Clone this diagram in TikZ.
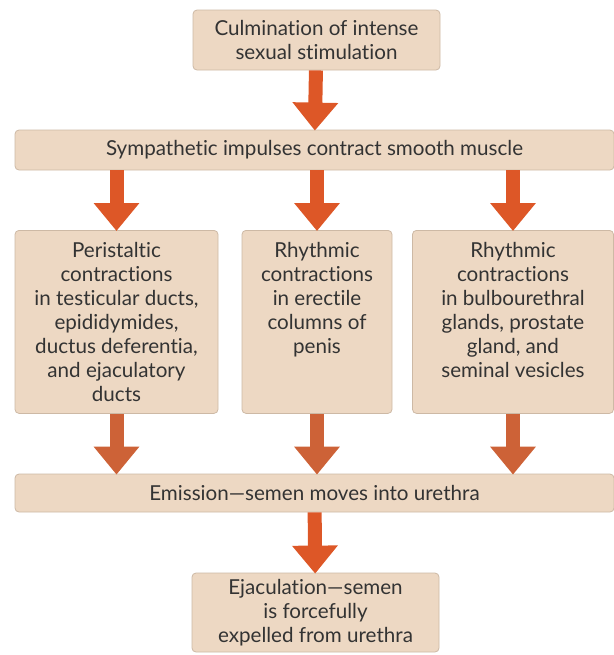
\documentclass[tikz,border=0pt]{standalone}
\usepackage{fontspec}
\setmainfont{Lato}[Ligatures={NoCommon,NoRare,NoContextual}]
\usetikzlibrary{arrows.meta}
\definecolor{boxfill}{HTML}{EDD8C3}
\definecolor{boxline}{HTML}{CDB9A5}
\definecolor{arrowred}{HTML}{DD5727}
\definecolor{arrowbrown}{HTML}{CD6237}
\tikzset{
  stepbox/.style={draw=boxline, fill=boxfill, rounded corners=2pt, align=center, inner sep=0pt, font=\fontsize{10.3}{12}\selectfont, text=black!80},
  barbox/.style={stepbox, minimum width=299.5pt, minimum height=20pt},
  endbox/.style={stepbox, minimum width=123.5pt},
  colbox/.style={stepbox, anchor=north},
  flowarrow/.style={-{Triangle[width=22pt,length=14pt]}, line width=7pt, draw=arrowred, shorten >=-0.5pt},
  lowarrow/.style={flowarrow, draw=arrowbrown}
}
% top aligned text of a column box
\newcommand{\coltext}[2]{\parbox[t][91.5pt][t]{#1}{\centering\rule{0pt}{13.5pt}#2}}

\begin{document}
\begin{tikzpicture}[x=0.5pt, y=-0.5pt]
  \useasboundingbox (0,0) rectangle (614,655);

  \node[endbox, minimum height=30pt] (culm) at (316.5,40) {Culmination of intense\\sexual stimulation};
  \node[barbox] (symp) at (314.5,150) {Sympathetic impulses contract smooth muscle};

  \node[colbox] (peri) at (116.5,230) {\coltext{101.5pt}{Peristaltic\\contractions\\in testicular ducts,\\epididymides,\\ductus deferentia,\\and ejaculatory\\ducts}};
  \node[colbox] (erec) at (317,230) {\coltext{75pt}{Rhythmic\\contractions\\in erectile\\columns of\\penis}};
  \node[colbox] (glan) at (513,230) {\coltext{100.5pt}{Rhythmic\\contractions\\in bulbourethral\\glands, prostate\\gland, and\\seminal vesicles}};

  \node[barbox, minimum height=19pt] (emis) at (314.5,493) {Emission---semen moves into urethra};
  \node[endbox, minimum height=39.5pt] (ejac) at (315.5,612.5) {Ejaculation---semen\\is forcefully\\expelled from urethra};

  \draw[flowarrow] (culm) -- (symp);
  \draw[flowarrow] (symp.south -| peri) -- (peri);
  \draw[flowarrow] (symp.south -| erec) -- (erec);
  \draw[flowarrow] (symp.south -| glan) -- (glan);

  \draw[lowarrow] (peri.south) -- (emis.north -| peri);
  \draw[lowarrow] (erec.south) -- (emis.north -| erec);
  \draw[lowarrow] (glan.south) -- (emis.north -| glan);
  \draw[flowarrow] (emis) -- (ejac);
\end{tikzpicture}
\end{document}
